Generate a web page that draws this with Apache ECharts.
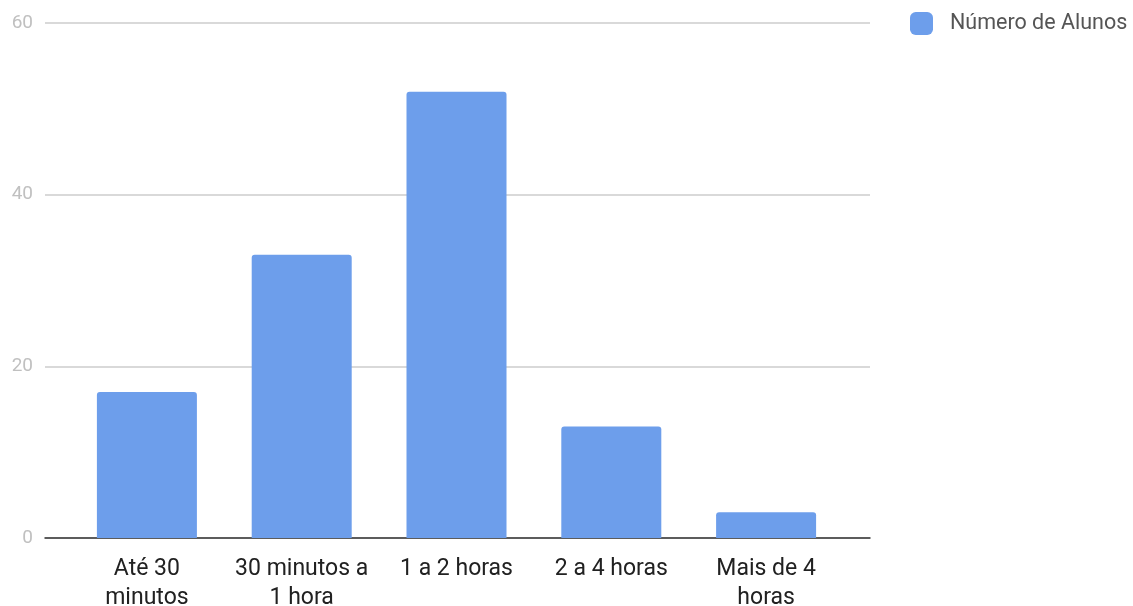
<!DOCTYPE html>
<html>
<head>
<meta charset="utf-8">
<script src="https://cdn.jsdelivr.net/npm/echarts@6/dist/echarts.min.js"></script>
<style>
  html, body { margin: 0; padding: 0; background: #fff; }
  #chart { width: 1133px; height: 606px; }
</style>
</head>
<body>
<div id="chart"></div>
<script>
// Tempo de estudo por dia
const categories = ['Até 30\nminutos', '30 minutos a\n1 hora', '1 a 2 horas', '2 a 4 horas', 'Mais de 4\nhoras'];
const seriesName = 'Número de Alunos';
const values = [17, 33, 52, 13, 3];
const yTicks = { min: 0, max: 60, interval: 20 };

const chart = echarts.init(document.getElementById('chart'), null, { renderer: 'canvas' });

chart.setOption({
  animation: false,
  textStyle: { fontFamily: 'Roboto' },
  legend: {
    data: [seriesName],
    left: 905,
    top: 7,
    itemWidth: 23,
    itemHeight: 23,
    itemGap: 10,
    icon: 'roundRect',
    textStyle: { color: '#555', fontSize: 21.5, fontFamily: 'Roboto', padding: [0, 0, 0, 12] }
  },
  grid: [
    // full-width frame: gridlines and baseline
    { left: 45, right: 263, top: 23, bottom: 68, outerBoundsMode: 'none' },
    // inner band holding the bars and category labels
    { left: 69.5, right: 289.5, top: 23, bottom: 68, outerBoundsMode: 'none' }
  ],
  xAxis: [
    {
      type: 'value', gridIndex: 0, min: 0, max: 1,
      axisLine: { show: true, onZero: false, lineStyle: { color: '#333', width: 1.5 } },
      axisTick: { show: false }, axisLabel: { show: false }, splitLine: { show: false }
    },
    {
      type: 'category', gridIndex: 1, data: categories,
      axisLine: { show: false }, axisTick: { show: false },
      axisLabel: { color: '#212121', fontSize: 23, lineHeight: 29, margin: 17, interval: 0, fontFamily: 'Roboto' }
    }
  ],
  yAxis: [
    {
      type: 'value', gridIndex: 0, min: yTicks.min, max: yTicks.max, interval: yTicks.interval,
      axisLine: { show: false }, axisTick: { show: false },
      axisLabel: { color: '#c0c0c0', fontSize: 19, margin: 12, fontFamily: 'Roboto' },
      splitLine: { lineStyle: { color: '#cccccc', width: 1.5 } }
    },
    {
      type: 'value', gridIndex: 1, min: yTicks.min, max: yTicks.max, interval: yTicks.interval,
      show: false, splitLine: { show: false }
    }
  ],
  series: [
    {
      name: seriesName,
      type: 'bar',
      xAxisIndex: 1,
      yAxisIndex: 1,
      data: values,
      barWidth: 100,
      itemStyle: { color: '#6d9eeb', borderRadius: [3, 3, 0, 0] }
    }
  ]
});
</script>
</body>
</html>
